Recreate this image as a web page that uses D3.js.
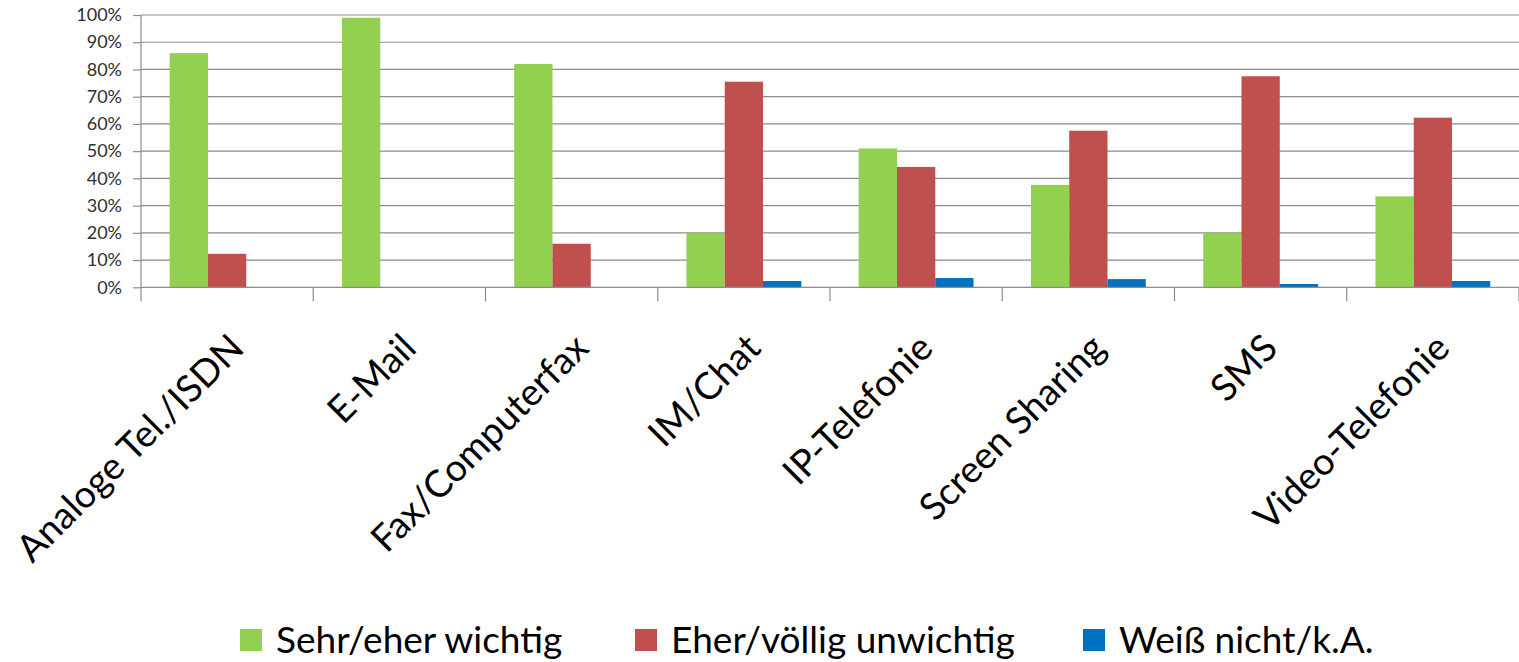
<!DOCTYPE html>
<html>
<head>
<meta charset="utf-8">
<script src="https://cdn.jsdelivr.net/npm/d3@7"></script>
<style>
  body { margin: 0; background: #fff; }
  svg { display: block; font-family: Lato, "Open Sans", sans-serif; }
</style>
</head>
<body>
<div id="chart"></div>
<script>
// data
var categories = ["Analoge Tel./ISDN", "E-Mail", "Fax/Computerfax", "IM/Chat",
                  "IP-Telefonie", "Screen Sharing", "SMS", "Video-Telefonie"];
var seriesNames = ["Sehr/eher wichtig", "Eher/völlig unwichtig", "Weiß nicht/k.A."];
var wichtig   = [86, 99, 82, 20, 51, 37.6, 20, 33.4];
var unwichtig = [12.3, 0, 16, 75.5, 44.2, 57.5, 77.5, 62.3];
var weissNicht = [0, 0, 0, 2.3, 3.4, 3.0, 1.2, 2.3];
var yTicks = [0, 10, 20, 30, 40, 50, 60, 70, 80, 90, 100];
var colors = ["#92D050", "#C0504D", "#0070C0"];

var W = 1519, H = 662;
var margin = {top: 15, right: 0, bottom: 375, left: 141},
    width = W - margin.left - margin.right,
    height = 287.3 - margin.top;

var svg = d3.select("#chart").append("svg")
    .attr("width", W)
    .attr("height", H);

var g = svg.append("g")
    .attr("transform", "translate(" + margin.left + "," + margin.top + ")");

var x0 = d3.scaleBand().domain(categories).range([0, width]).padding(0);
var x1 = d3.scaleBand().domain(seriesNames)
    .range([x0.bandwidth() / 6, x0.bandwidth() * 5 / 6]).padding(0);
var y = d3.scaleLinear().domain([0, 100]).range([height, 0]);

var gridColor = "#8c8c8c";

// gridlines
g.append("g")
  .selectAll("line")
  .data(yTicks.slice(1))
  .enter().append("line")
    .attr("x1", 0)
    .attr("x2", width)
    .attr("y1", function(d) { return y(d); })
    .attr("y2", function(d) { return y(d); })
    .attr("stroke", gridColor)
    .attr("stroke-width", 1.2);

// y axis
var yAxis = g.append("g")
  .call(d3.axisLeft(y).tickValues(yTicks).tickSize(8).tickPadding(11)
    .tickFormat(function(d) { return d + "%"; }));
yAxis.select(".domain").remove();
yAxis.selectAll("line").attr("stroke", gridColor).attr("stroke-width", 1.2);
yAxis.selectAll("text")
  .attr("font-size", 18)
  .attr("font-family", "Lato, sans-serif")
  .attr("fill", "#303030");

g.append("line")
  .attr("x1", 0).attr("x2", 0)
  .attr("y1", 0).attr("y2", height + 14)
  .attr("stroke", gridColor).attr("stroke-width", 1.2);

// bars
var table = categories.map(function(c, i) {
  return {cat: c, vals: [wichtig[i], unwichtig[i], weissNicht[i]]};
});

var groups = g.selectAll(".cat")
  .data(table)
  .enter().append("g")
    .attr("class", "cat")
    .attr("transform", function(d) { return "translate(" + x0(d.cat) + ",0)"; });

groups.selectAll("rect")
  .data(function(d) { return d.vals.map(function(v, j) { return {s: seriesNames[j], v: v, j: j}; }); })
  .enter().append("rect")
    .attr("x", function(d) { return x1(d.s); })
    .attr("width", x1.bandwidth())
    .attr("y", function(d) { return y(d.v); })
    .attr("height", function(d) { return height - y(d.v); })
    .attr("fill", function(d) { return colors[d.j]; });

// x axis line and category separators
g.append("line")
  .attr("x1", 0).attr("x2", width)
  .attr("y1", height).attr("y2", height)
  .attr("stroke", gridColor).attr("stroke-width", 1.2);

g.append("g")
  .selectAll("line")
  .data(categories.slice(1).concat(["end"]))
  .enter().append("line")
    .attr("x1", function(d, i) { return (i + 1) * x0.bandwidth(); })
    .attr("x2", function(d, i) { return (i + 1) * x0.bandwidth(); })
    .attr("y1", height)
    .attr("y2", height + 14)
    .attr("stroke", gridColor)
    .attr("stroke-width", 1.2);

// rotated category labels
g.append("g")
  .selectAll("text")
  .data(categories)
  .enter().append("text")
    .attr("transform", function(d) {
      var cx = x0(d) + x0.bandwidth() / 2 + 19;
      return "translate(" + cx + "," + (height + 63) + ") rotate(-45)";
    })
    .attr("text-anchor", "end")
    .attr("font-size", 37.5)
    .attr("fill", "#000")
    .text(function(d) { return d; });

// legend
var legendX = [240, 635, 1083];
var legend = svg.append("g")
  .selectAll("g")
  .data(seriesNames)
  .enter().append("g")
    .attr("transform", function(d, i) { return "translate(" + legendX[i] + ",629)"; });

legend.append("rect")
  .attr("width", 22)
  .attr("height", 22)
  .attr("fill", function(d, i) { return colors[i]; });

legend.append("text")
  .attr("x", 36)
  .attr("y", 24)
  .attr("font-size", 37)
  .attr("fill", "#000")
  .text(function(d) { return d; });
</script>
</body>
</html>
